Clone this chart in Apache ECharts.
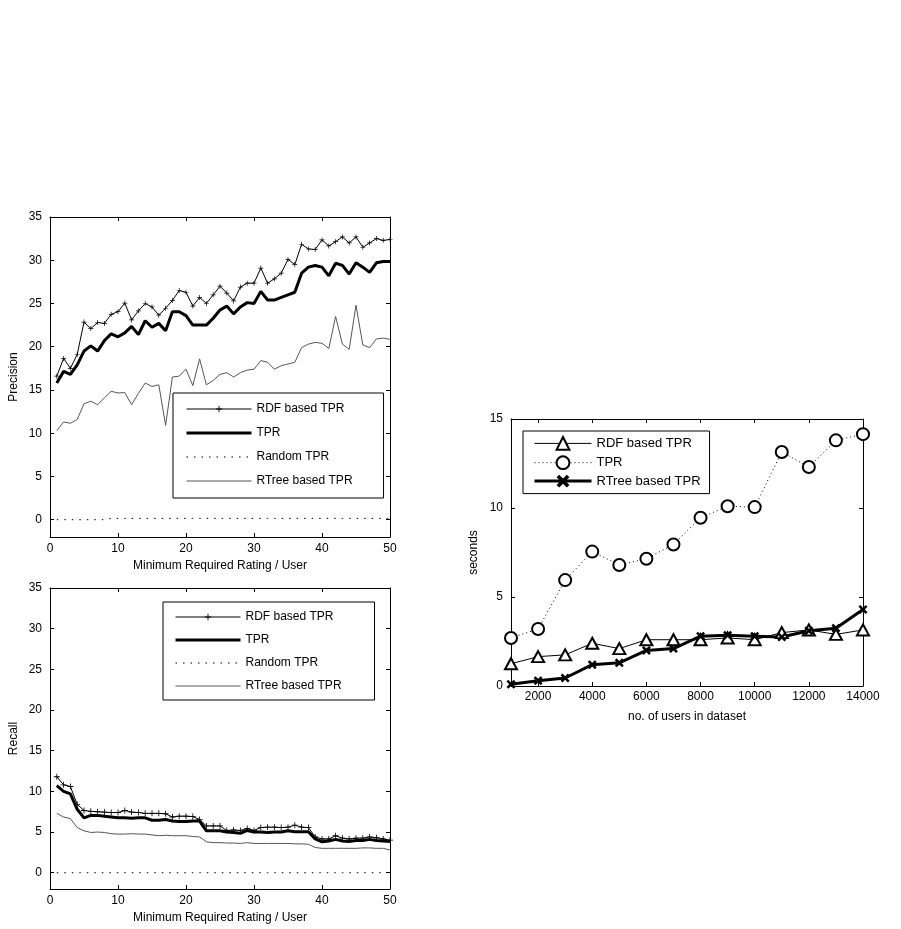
<!DOCTYPE html>
<html><head><meta charset="utf-8">
<script src="https://cdn.jsdelivr.net/npm/echarts@6/dist/echarts.min.js"></script>
<style>
html,body{margin:0;padding:0;background:#fff;}
.c{position:absolute;left:0;top:0;width:901px;height:929px;}
</style></head><body>
<div id="c1" class="c"></div><div id="c2" class="c"></div><div id="c3" class="c"></div>
<script>
// ---------- data ----------
const ratingX = [1,2,3,4,5,6,7,8,9,10,11,12,13,14,15,16,17,18,19,20,21,22,23,24,25,26,27,28,29,30,31,32,33,34,35,36,37,38,39,40,41,42,43,44,45,46,47,48,49,50];
const ratingXTicks = [0,10,20,30,40,50];
const percentYTicks = [0,5,10,15,20,25,30,35];

const precisionRDF = [16.6,18.65,17.5,19.1,22.85,22.1,22.8,22.7,23.75,24.05,25.05,23.1,24.15,25.0,24.6,23.65,24.45,25.35,26.5,26.3,24.7,25.7,25.0,26.0,27.0,26.2,25.3,26.9,27.35,27.35,29.1,27.35,27.85,28.5,30.1,29.5,31.85,31.3,31.25,32.35,31.65,32.15,32.7,32.0,32.7,31.5,32.0,32.5,32.3,32.4];
const precisionTPR = [15.8,17.15,16.8,17.9,19.5,20.1,19.5,20.7,21.5,21.15,21.6,22.35,21.4,23.0,22.25,22.7,21.85,24.05,24.05,23.6,22.5,22.5,22.5,23.3,24.25,24.7,23.8,24.6,25.1,25.0,26.4,25.4,25.4,25.7,26.0,26.3,28.5,29.2,29.4,29.2,28.2,29.65,29.4,28.4,29.7,29.2,28.6,29.7,29.85,29.85];
const precisionRandom = [0,0,0,0,0,0,0,0,0.15,0.15,0.15,0.15,0.15,0.15,0.15,0.15,0.15,0.15,0.15,0.15,0.15,0.15,0.15,0.15,0.15,0.15,0.15,0.15,0.15,0.15,0.15,0.15,0.15,0.15,0.15,0.15,0.15,0.15,0.15,0.15,0.15,0.15,0.15,0.15,0.15,0.15,0.15,0.15,0.15,0.15];
const precisionRTree = [10.3,11.3,11.15,11.6,13.4,13.7,13.3,14.1,14.85,14.65,14.7,13.3,14.6,15.8,15.4,15.6,10.9,16.5,16.6,17.4,15.5,18.6,15.6,16.1,16.8,17.0,16.5,17.0,17.3,17.4,18.4,18.2,17.4,17.8,18.0,18.2,19.9,20.3,20.5,20.4,19.8,23.5,20.3,19.7,24.8,20.2,19.9,20.9,21.0,20.85];

const recallRDF = [11.8,10.8,10.6,8.4,7.65,7.55,7.5,7.45,7.4,7.4,7.65,7.45,7.4,7.3,7.3,7.3,7.25,6.85,6.95,6.95,6.9,6.55,5.75,5.75,5.75,5.2,5.25,5.2,5.45,5.2,5.55,5.6,5.6,5.55,5.6,5.85,5.6,5.55,4.4,4.15,4.15,4.55,4.25,4.15,4.25,4.25,4.4,4.3,4.15,4.0];
const recallTPR = [10.7,10.0,9.7,7.8,6.75,7.05,7.05,6.95,6.85,6.75,6.75,6.7,6.75,6.75,6.45,6.45,6.55,6.35,6.3,6.3,6.35,6.35,5.15,5.15,5.15,5.0,4.95,4.85,5.2,5.0,5.0,4.95,5.0,5.0,5.15,5.05,5.05,5.05,4.15,3.8,3.9,4.1,3.9,3.85,3.95,3.95,4.1,3.95,3.9,3.85];
const recallRandom = [0,0,0,0,0,0,0,0,0,0,0,0,0,0,0,0,0,0,0,0,0,0,0,0,0,0,0,0,0,0,0,0,0,0,0,0,0,0,0,0,0,0,0,0,0,0,0,0,0,0];
const recallRTree = [7.3,6.85,6.65,5.55,5.15,4.95,5.0,4.95,4.8,4.75,4.75,4.8,4.75,4.75,4.65,4.55,4.6,4.55,4.55,4.55,4.45,4.4,3.8,3.7,3.7,3.65,3.65,3.6,3.7,3.6,3.6,3.6,3.6,3.6,3.6,3.55,3.55,3.5,3.1,3.0,3.0,3.0,3.0,3.0,3.0,3.05,3.05,3.0,3.0,2.8];

const usersX = [1000,2000,3000,4000,5000,6000,7000,8000,9000,10000,11000,12000,13000,14000];
const usersXTicks = [2000,4000,6000,8000,10000,12000,14000];
const secondsYTicks = [0,5,10,15];
const timeRDF = [1.25,1.65,1.75,2.4,2.1,2.6,2.6,2.6,2.7,2.6,3.0,3.15,2.9,3.15];
const timeTPR = [2.7,3.2,5.95,7.55,6.8,7.15,7.95,9.45,10.1,10.05,13.15,12.3,13.8,14.15];
const timeRTree = [0.1,0.3,0.45,1.2,1.3,2.0,2.1,2.8,2.85,2.8,2.75,3.1,3.25,4.3];

// ---------- helpers ----------
const FONT = 'Liberation Sans, Arial, sans-serif';
const PLUS = 'path://M0,4.3H10V5.7H0Z M4.3,0H5.7V10H4.3Z';
const XMARK = 'path://M2,0L5,3L8,0L10,2L7,5L10,8L8,10L5,7L2,10L0,8L3,5L0,2Z';
const pairs = (xs, ys) => xs.map((x, i) => [x, ys[i]]);

function axes(min, max, ticks, name, nameGap, pos, labelMargin) {
  const main = (pos === 'bottom' || pos === 'left');
  return {
    type: 'value', position: pos, min: min, max: max,
    name: main ? name : '', nameLocation: 'middle', nameGap: nameGap,
    nameTextStyle: {fontFamily: FONT, fontSize: 12, color: '#000'},
    axisLine: {show: true, onZero: false, lineStyle: {color: '#000', width: 1}},
    axisTick: {show: true, inside: true, length: 4, customValues: ticks, lineStyle: {color: '#000', width: 1}},
    axisLabel: {show: main, customValues: ticks, margin: labelMargin, fontFamily: FONT, fontSize: 12, color: '#000',
                formatter: function (v) { return String(v); }},
    splitLine: {show: false}
  };
}

function ratingChart(el, top, height, yname, rdf, tpr, rnd, rtree, legendPos, legendExtra, plusSize) {
  const chart = echarts.init(document.getElementById(el), null, {renderer: 'canvas'});
  chart.setOption({
    animation: false,
    grid: {left: 50, top: top, width: 340, height: height},
    xAxis: [axes(0, 50, ratingXTicks, 'Minimum Required Rating / User', 23, 'bottom', 6),
            axes(0, 50, ratingXTicks, '', 0, 'top', 6)],
    yAxis: [axes(-2, 35, percentYTicks, yname, 30, 'left', 8),
            axes(-2, 35, percentYTicks, '', 0, 'right', 8)],
    legend: Object.assign({
      orient: 'vertical', itemWidth: 65, itemHeight: 8,
      borderColor: '#000', borderWidth: 1, borderRadius: 0, backgroundColor: '#fff',
      selectedMode: false,
      lineStyle: {width: 'inherit'},
      textStyle: {fontFamily: FONT, fontSize: 12, color: '#000'},
      data: [
        {name: 'RDF based TPR'},
        {name: 'TPR', itemStyle: {opacity: 0}},
        {name: 'Random TPR', itemStyle: {opacity: 0}},
        {name: 'RTree based TPR', itemStyle: {opacity: 0}}
      ]
    }, legendPos, legendExtra),
    series: [
      {name: 'RDF based TPR', type: 'line', data: pairs(ratingX, rdf), symbol: PLUS, symbolSize: plusSize,
       showAllSymbol: true, itemStyle: {color: '#000', borderWidth: 0}, lineStyle: {color: '#000', width: 1}, z: 3},
      {name: 'TPR', type: 'line', data: pairs(ratingX, tpr), symbol: 'none',
       itemStyle: {color: '#000'}, lineStyle: {color: '#000', width: 3}, z: 2},
      {name: 'Random TPR', type: 'line', data: pairs(ratingX, rnd), symbol: 'none',
       itemStyle: {color: '#000'}, lineStyle: {color: '#000', width: 1, type: [1.5, 6]}, z: 2},
      {name: 'RTree based TPR', type: 'line', data: pairs(ratingX, rtree), symbol: 'none',
       itemStyle: {color: '#555'}, lineStyle: {color: '#555', width: 1}, z: 2}
    ]
  });
}

ratingChart('c1', 217, 320, 'Precision', precisionRDF, precisionTPR, precisionRandom, precisionRTree,
  {left: 173, top: 393}, {itemGap: 12, padding: [10, 31, 11, 12]}, 5);
ratingChart('c2', 588, 301, 'Recall', recallRDF, recallTPR, recallRandom, recallRTree,
  {left: 163, top: 602}, {itemGap: 11, padding: [9, 33, 8, 11]}, 6);

// right chart
const c3 = echarts.init(document.getElementById('c3'), null, {renderer: 'canvas'});
c3.setOption({
  animation: false,
  grid: {left: 511, top: 419, width: 352, height: 267},
  xAxis: [axes(1000, 14000, usersXTicks, 'no. of users in dataset', 25, 'bottom', 5),
          axes(1000, 14000, usersXTicks, '', 0, 'top', 5)],
  yAxis: [axes(0, 15, secondsYTicks, 'seconds', 31, 'left', 8),
          axes(0, 15, secondsYTicks, '', 0, 'right', 8)],
  legend: {
    orient: 'vertical', left: 523, top: 431, itemWidth: 57, itemHeight: 16, itemGap: 4.5,
    padding: [5, 9, 6, 10], borderColor: '#000', borderWidth: 1, backgroundColor: '#fff',
    selectedMode: false,
    lineStyle: {width: 'inherit'},
    textStyle: {fontFamily: FONT, fontSize: 13, color: '#000'},
    data: ['RDF based TPR', 'TPR', 'RTree based TPR']
  },
  series: [
    {name: 'RDF based TPR', type: 'line', data: pairs(usersX, timeRDF), symbol: 'emptyTriangle', symbolSize: [12, 11],
     showAllSymbol: true, itemStyle: {color: '#000', borderColor: '#000', borderWidth: 1}, lineStyle: {color: '#000', width: 1}},
    {name: 'TPR', type: 'line', data: pairs(usersX, timeTPR), symbol: 'emptyCircle', symbolSize: 12,
     showAllSymbol: true, itemStyle: {color: '#000', borderColor: '#000', borderWidth: 1}, lineStyle: {color: '#000', width: 1, type: [1, 3]}},
    {name: 'RTree based TPR', type: 'line', data: pairs(usersX, timeRTree), symbol: XMARK, symbolSize: 9,
     showAllSymbol: true, itemStyle: {color: '#000', borderWidth: 0}, lineStyle: {color: '#000', width: 3}}
  ]
});
</script>
</body></html>
